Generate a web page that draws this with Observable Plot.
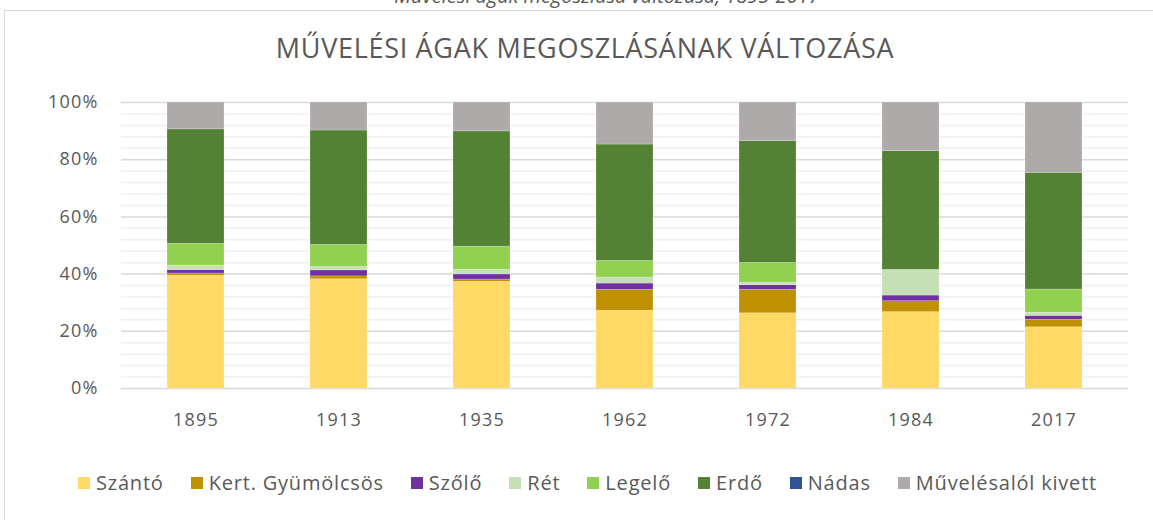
<!DOCTYPE html>
<html>
<head>
<meta charset="utf-8">
<script src="https://cdn.jsdelivr.net/npm/d3@7"></script>
<script src="https://cdn.jsdelivr.net/npm/@observablehq/plot@0.6"></script>
<style>
  html, body { margin: 0; padding: 0; background: #fff; overflow: hidden; width: 1153px; height: 520px; }
  body { position: relative; font-family: "Open Sans", "Noto Sans", sans-serif; color: #595959; }
  #caption { position: absolute; top: -18px; left: 0; width: 1214px; text-align: center; font-style: italic; font-size: 20px; color: #595959; white-space: nowrap; }
  #frame { position: absolute; left: 4px; top: 10px; width: 1170px; height: 600px; border: 1px solid #d9d9d9; }
  #title { position: absolute; top: 29px; left: 4px; width: 1162px; text-align: center; font-size: 27px; color: #595959; letter-spacing: 0.7px; white-space: nowrap; }
  #chart { position: absolute; left: 0; top: 80px; }
  #legend { position: absolute; top: 469px; left: 0; width: 1175px; display: flex; justify-content: center; gap: 27px; font-size: 20px; letter-spacing: 0.8px; color: #595959; white-space: nowrap; }
  #legend .item { display: flex; align-items: center; }
  #legend .sw { width: 12px; height: 12px; margin-right: 6px; display: inline-block; }
</style>
</head>
<body>
<div id="caption">Művelési ágak megoszlása változása, 1895-2017</div>
<div id="frame"></div>
<div id="title">MŰVELÉSI ÁGAK MEGOSZLÁSÁNAK VÁLTOZÁSA</div>
<div id="chart"></div>
<div id="legend"></div>
<script>
// ---- data ----
const years = ["1895", "1913", "1935", "1962", "1972", "1984", "2017"];
const categories = ["Szántó", "Kert. Gyümölcsös", "Szőlő", "Rét", "Legelő", "Erdő", "Nádas", "Művelésalól kivett"];
const colors = ["#FFD966", "#BF9000", "#7030A0", "#C5E0B4", "#92D050", "#548235", "#2F5597", "#AEAAAA"];
const szanto   = [39.4, 38.2, 37.3, 27.2, 26.3, 26.7, 21.4];
const kert     = [0.8, 1.0, 0.8, 7.3, 8.2, 3.8, 2.6];
const szolo    = [1.2, 2.1, 1.8, 2.2, 1.6, 2.0, 1.4];
const ret      = [1.6, 1.2, 1.6, 2.1, 0.8, 9.0, 1.1];
const legelo   = [7.6, 7.7, 8.1, 5.8, 7.0, 0.0, 8.1];
const erdo     = [40.0, 40.0, 40.3, 40.7, 42.6, 41.5, 40.8];
const nadas    = [0, 0, 0, 0, 0, 0, 0];
const kivett   = [9.4, 9.8, 10.1, 14.7, 13.5, 17.0, 24.6];
const yTicks = [0, 0.2, 0.4, 0.6, 0.8, 1.0];
const yMinorTicks = [0.04, 0.08, 0.12, 0.16, 0.24, 0.28, 0.32, 0.36, 0.44, 0.48, 0.52, 0.56, 0.64, 0.68, 0.72, 0.76, 0.84, 0.88, 0.92, 0.96];

const seriesValues = [szanto, kert, szolo, ret, legelo, erdo, nadas, kivett];
const rows = [];
categories.forEach((cat, ci) => {
  years.forEach((yr, yi) => rows.push({ year: yr, cat, value: seriesValues[ci][yi] }));
});

const chart = Plot.plot({
  width: 1153,
  height: 360,
  marginLeft: 121,
  marginRight: 25,
  marginTop: 22,
  marginBottom: 52,
  style: { fontFamily: "'Open Sans', 'Noto Sans', sans-serif", fontSize: "18px", color: "#595959", background: "transparent" },
  x: { domain: years, paddingInner: 0.6, paddingOuter: 0.3, label: null, tickSize: 0, tickPadding: 25 },
  y: { domain: [0, 1], ticks: yTicks, tickFormat: d3.format(".0%"), label: null, tickSize: 0, tickPadding: 23 },
  color: { domain: categories, range: colors },
  marks: [
    Plot.ruleY(yMinorTicks, { stroke: "#f0f0f0", strokeWidth: 1.5 }),
    Plot.ruleY(yTicks, { stroke: "#d9d9d9", strokeWidth: 1.5 }),
    Plot.barY(rows, Plot.stackY({ offset: "normalize", order: categories }, {
      x: "year", y: "value", fill: "cat", stroke: "#ffffff", strokeOpacity: 0.35, strokeWidth: 0.6
    }))
  ]
});
chart.querySelectorAll("g[aria-label='x-axis tick label'] text, g[aria-label='y-axis tick label'] text").forEach(t => t.setAttribute("letter-spacing", "1.2"));
document.getElementById("chart").appendChild(chart);

const legend = document.getElementById("legend");
categories.forEach((c, i) => {
  const item = document.createElement("div");
  item.className = "item";
  const sw = document.createElement("span");
  sw.className = "sw";
  sw.style.background = colors[i];
  const tx = document.createElement("span");
  tx.textContent = c;
  item.appendChild(sw);
  item.appendChild(tx);
  legend.appendChild(item);
});
</script>
</body>
</html>
